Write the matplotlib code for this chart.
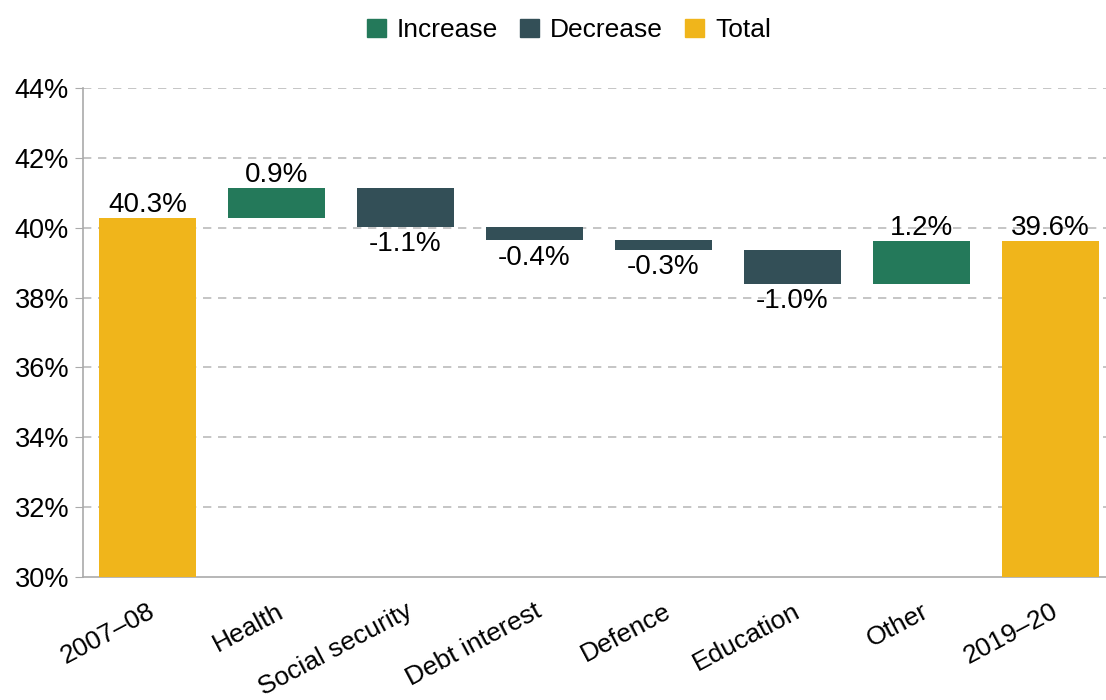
import matplotlib
matplotlib.use("Agg")
import matplotlib.pyplot as plt
from matplotlib.patches import Patch
import numpy as np

plt.rcParams['font.family'] = ['Liberation Sans', 'DejaVu Sans']

# data (% of national income)
categories = ['2007–08', 'Health', 'Social security', 'Debt interest',
              'Defence', 'Education', 'Other', '2019–20']
start_total = 40.27
changes = [0.86, -1.10, -0.39, -0.28, -0.97, 1.22]
yticks = [30, 32, 34, 36, 38, 40, 42, 44]

col_inc = '#24795A'
col_dec = '#334F57'
col_tot = '#F0B51B'

# waterfall geometry
end_total = start_total + sum(changes)
cum = start_total + np.cumsum([0] + changes)
bottoms, heights, colors, labels = [], [], [], []
bottoms.append(30); heights.append(start_total - 30); colors.append(col_tot)
labels.append(f'{start_total:.1f}%')
for i, c in enumerate(changes):
    lo = min(cum[i], cum[i + 1])
    bottoms.append(lo); heights.append(abs(c))
    colors.append(col_inc if c > 0 else col_dec)
    labels.append(f'{c:.1f}%')
bottoms.append(30); heights.append(end_total - 30); colors.append(col_tot)
labels.append(f'{end_total:.1f}%')

fig = plt.figure(figsize=(11.06, 7.0), dpi=100)
ax = fig.add_axes([0.075, 0.176, 0.925, 0.698])

x = np.arange(len(categories))
ax.bar(x, heights, bottom=bottoms, width=0.745, color=colors, zorder=3)

# value labels: above for totals/increases, below for decreases
for i in range(len(categories)):
    top = bottoms[i] + heights[i]
    is_dec = 0 < i < len(categories) - 1 and changes[i - 1] < 0
    if is_dec:
        ax.annotate(labels[i], (x[i], bottoms[i]), xytext=(0, -3),
                    textcoords='offset points', ha='center', va='top', fontsize=20)
    else:
        ax.annotate(labels[i], (x[i], top), xytext=(0, 4.5),
                    textcoords='offset points', ha='center', va='baseline', fontsize=20)

ax.set_ylim(30, 44)
ax.set_xlim(-0.5, 7.43)
ax.set_yticks(yticks)
ax.set_yticklabels([f'{t}%' for t in yticks], fontsize=19.5)
ax.set_xticks(x)
ax.set_xticklabels(categories, fontsize=19, rotation=28, ha='right',
                   rotation_mode='anchor')
ax.tick_params(axis='x', length=0, pad=16)
ax.tick_params(axis='y', length=6, color='#AAAAAA', pad=4)

for t in yticks[1:]:
    ax.axhline(t, color='#BBBBBB', lw=1.2, ls=(0, (5, 4)), zorder=1)

for s in ['top', 'right']:
    ax.spines[s].set_visible(False)
for s in ['left', 'bottom']:
    ax.spines[s].set_color('#AAAAAA')
    ax.spines[s].set_linewidth(1.2)

handles = [Patch(color=col_inc, label='Increase'),
           Patch(color=col_dec, label='Decrease'),
           Patch(color=col_tot, label='Total')]
fig.legend(handles=handles, loc='center', bbox_to_anchor=(0.5145, 0.957),
           ncol=3, frameon=False, fontsize=19, handlelength=0.72,
           handleheight=0.68, handletextpad=0.42, columnspacing=0.83)

fig.savefig('out.png', dpi=100)
